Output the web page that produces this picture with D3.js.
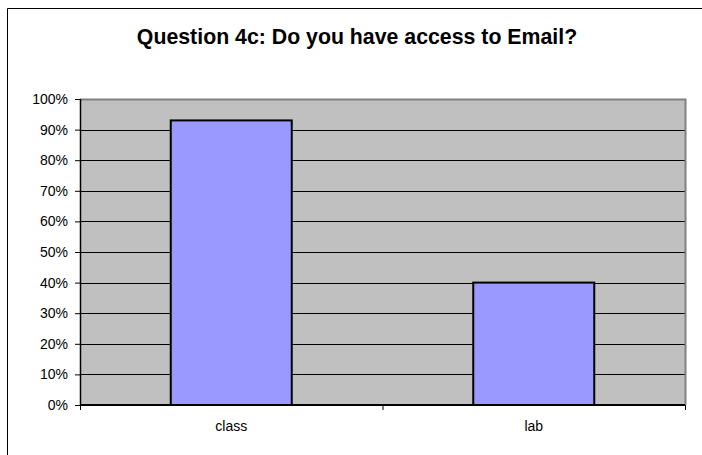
<!DOCTYPE html>
<html>
<head>
<meta charset="utf-8">
<script src="https://cdn.jsdelivr.net/npm/d3@7"></script>
<style>
  html, body { margin: 0; padding: 0; background: #fff; overflow: hidden; }
  svg { display: block; font-family: "Liberation Sans", Arial, sans-serif; }
</style>
</head>
<body>
<svg id="chart" width="702" height="455"></svg>
<script>
const title = "Question 4c: Do you have access to Email?";
const categories = ["class", "lab"];
const values = [0.93, 0.40];
const yTicks = [0, 0.1, 0.2, 0.3, 0.4, 0.5, 0.6, 0.7, 0.8, 0.9, 1.0];

const svg = d3.select("#chart");
const plot = { left: 80, top: 99, right: 685, bottom: 405 };

// outer chart border (only left and top visible in the frame)
svg.append("path")
  .attr("d", "M7.5,455V8.5H702")
  .attr("fill", "none").attr("stroke", "#000").attr("stroke-width", 1);

svg.append("text")
  .attr("x", 357).attr("y", 44)
  .attr("text-anchor", "middle")
  .attr("font-size", "21.3px").attr("font-weight", "bold")
  .attr("fill", "#000")
  .text(title);

const x = d3.scaleBand().domain(categories).range([plot.left, plot.right]).paddingInner(0).paddingOuter(0);
const y = d3.scaleLinear().domain([0, 1]).range([plot.bottom, plot.top]);

// plot background
svg.append("rect")
  .attr("x", plot.left).attr("y", plot.top)
  .attr("width", plot.right - plot.left).attr("height", plot.bottom - plot.top)
  .attr("fill", "#c0c0c0");

// gridlines
svg.append("g").selectAll("line").data(yTicks.filter(d => d > 0 && d < 1)).join("line")
  .attr("x1", plot.left).attr("x2", plot.right)
  .attr("y1", d => Math.round(y(d)) + 0.5).attr("y2", d => Math.round(y(d)) + 0.5)
  .attr("stroke", "#000").attr("stroke-width", 1);

// plot border top/right (gray)
svg.append("path")
  .attr("d", `M${plot.left},${plot.top + 0.5}H${plot.right + 0.5}V${plot.bottom}`)
  .attr("fill", "none").attr("stroke", "#808080").attr("stroke-width", 2);

// bars
const bw = 121;
svg.append("g").selectAll("rect").data(categories).join("rect")
  .attr("x", d => x(d) + x.bandwidth() / 2 - bw / 2)
  .attr("y", (d, i) => y(values[i]))
  .attr("width", bw)
  .attr("height", (d, i) => y(0) - y(values[i]))
  .attr("fill", "#9999ff").attr("stroke", "#000").attr("stroke-width", 2);

// y axis
const yAxis = d3.axisLeft(y).tickValues(yTicks).tickFormat(d3.format(".0%")).tickSize(5).tickPadding(7);
const gy = svg.append("g").attr("transform", `translate(${plot.left},0)`).call(yAxis);
gy.select(".domain").attr("stroke", "#000").attr("stroke-width", 1.5).attr("d", `M0.5,${plot.top}V${plot.bottom}`);
gy.selectAll(".tick line").attr("stroke", "#000");
gy.selectAll(".tick text").attr("font-size", "14px").attr("fill", "#000").attr("font-family", "Liberation Sans, Arial, sans-serif");

// x axis
const xAxis = d3.axisBottom(x).tickSize(0).tickPadding(16);
const gx = svg.append("g").attr("transform", `translate(0,${plot.bottom})`).call(xAxis);
gx.select(".domain").attr("stroke", "#000").attr("stroke-width", 2).attr("d", `M${plot.left},0H${plot.right}`);
gx.selectAll(".tick text").attr("font-size", "14px").attr("fill", "#000").attr("font-family", "Liberation Sans, Arial, sans-serif");
// category boundary ticks
const bounds = [plot.left, ...categories.slice(1).map(c => x(c)), plot.right];
gx.append("g").selectAll("line").data(bounds).join("line")
  .attr("x1", d => d + 0.5).attr("x2", d => d + 0.5)
  .attr("y1", 0).attr("y2", 5)
  .attr("stroke", "#000").attr("stroke-width", 1);
</script>
</body>
</html>
